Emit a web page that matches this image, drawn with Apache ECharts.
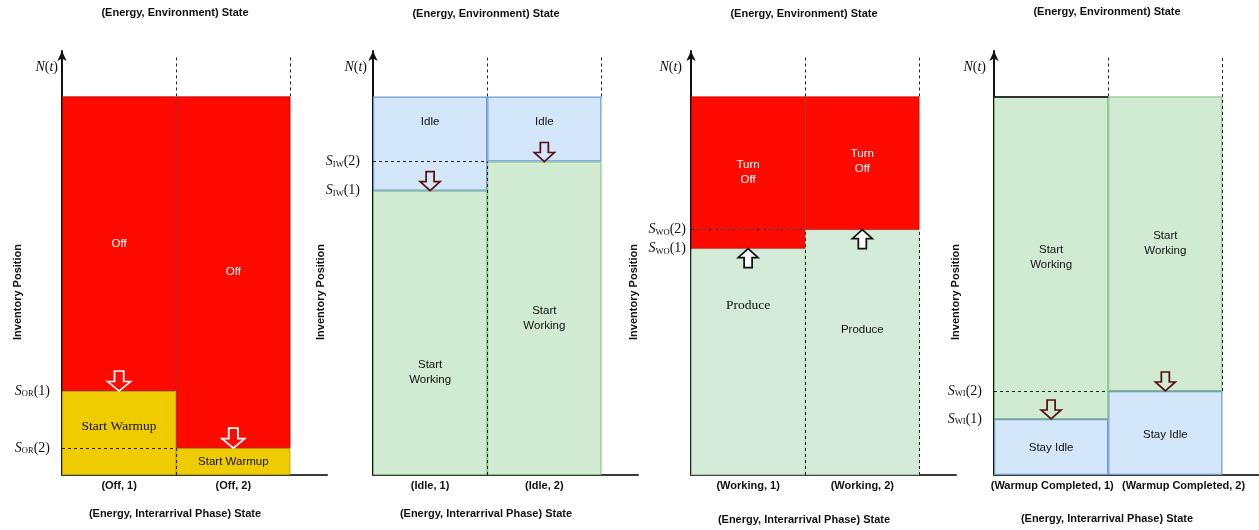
<!DOCTYPE html>
<html>
<head>
<meta charset="utf-8">
<script src="https://cdn.jsdelivr.net/npm/echarts@6/dist/echarts.min.js"></script>
<style>
html, body { margin: 0; padding: 0; background: #fff; }
#main { width: 1259px; height: 530px; }
</style>
</head>
<body>
<div id="main"></div>
<script>
// level of N(t) (top of every bar), axis top, N(t) tick, top of the dashed guides
var levelN = 100;
var axisTop = 112;
var nTick = 107.7;
var dashTop = 110.3;

var offCats = ['(Off, 1)', '(Off, 2)'];
var offWarmup = [22.2, 7.1];
var offOff = [77.8, 92.9];

var idleCats = ['(Idle, 1)', '(Idle, 2)'];
var idleWorking = [75.1, 82.8];
var idleIdle = [24.9, 17.2];

var workCats = ['(Working, 1)', '(Working, 2)'];
var workProduce = [59.8, 64.8];
var workTurnOff = [40.2, 35.2];

var warmCats = ['(Warmup Completed, 1)', '(Warmup Completed, 2)'];
var warmStayIdle = [14.8, 22.2];
var warmStartWorking = [85.2, 77.8];

var subNames = ['OR', 'IW', 'WO', 'WI'];
var topTitle = '(Energy, Environment) State';
var bottomTitle = '(Energy, Interarrival Phase) State';

var SANS = 'Liberation Sans, Arial, Helvetica, sans-serif';
var SERIF = 'Liberation Serif, Times New Roman, serif';
var arrowDown = 'path://M6,0L14,0L14,10L20,10L10,19L0,10L6,10Z';
var arrowUp = 'path://M10,0L20,9L14,9L14,19L6,19L6,9L0,9Z';

var sansBlack = { fontFamily: SANS, fontSize: 11.5, color: '#111', lineHeight: 15 };
var sansWhite = { fontFamily: SANS, fontSize: 11.5, color: '#fff', lineHeight: 15 };
var serifBlack = { fontFamily: SERIF, fontSize: 13.5, color: '#111', lineHeight: 16 };

var panels = [
  {
    left: 62, cats: offCats, lower: offWarmup, upper: offOff, sub: subNames[0],
    lowerText: ['Start Warmup', 'Start Warmup'], upperText: ['Off', 'Off'],
    lowerFont: [serifBlack, sansBlack], upperFont: [sansWhite, sansWhite],
    lowerPos: [42, 52], upperPos: [50, 50],
    lowerStyle: { color: '#eecc00', borderColor: '#c2a600', borderWidth: 1 },
    upperStyle: { color: '#ff0a00', borderColor: '#b00000', borderWidth: 0.8 },
    arrow: { up: false, color: '#ff0a00', borderColor: '#fff', size: [23, 20] },
    nameGap: 39, nMargin: 4, sPad: 8, labelAt: [0.5, 1.5],
    extra: [[1, 0, 1, 'lo2']],
    titleY: 2, bottomY: 503
  },
  {
    left: 373, cats: idleCats, lower: idleWorking, upper: idleIdle, sub: subNames[1],
    lowerText: ['Start\nWorking', 'Start\nWorking'], upperText: ['Idle', 'Idle'],
    lowerFont: [sansBlack, sansBlack], upperFont: [sansBlack, sansBlack],
    lowerPos: [64, 50], upperPos: [27, 39],
    lowerStyle: { color: '#d1ebd3', borderColor: '#82c074', borderWidth: 1 },
    upperStyle: { color: '#d4e6fa', borderColor: '#6c9bd0', borderWidth: 1.2 },
    arrow: { up: false, color: '#d4e6fa', borderColor: '#5a1010', size: [20, 19] },
    nameGap: 47, nMargin: 6, sPad: 7, labelAt: [0.5, 1.5],
    extra: [[1, 0, 1, 'lo2']],
    titleY: 3, bottomY: 503
  },
  {
    left: 691, cats: workCats, lower: workProduce, upper: workTurnOff, sub: subNames[2],
    lowerText: ['Produce', 'Produce'], upperText: ['Turn\nOff', 'Turn\nOff'],
    lowerFont: [serifBlack, sansBlack], upperFont: [sansWhite, sansWhite],
    lowerPos: [25, 41], upperPos: [50, 49],
    lowerStyle: { color: '#d3ebd8', borderColor: '#9ccf9c', borderWidth: 0.6 },
    upperStyle: { color: '#ff0a00', borderColor: '#b00000', borderWidth: 0.6 },
    arrow: { up: true, color: '#fff', borderColor: '#111', size: [20, 19] },
    nameGap: 52, nMargin: 5, sPad: 0, nPad: 4, labelAt: [0.5, 1.5],
    extra: [[1, 0, 1, 'lo2'], [2, 0, 2, 'lo2']],
    titleY: 3, bottomY: 509
  },
  {
    left: 994, cats: warmCats, lower: warmStayIdle, upper: warmStartWorking, sub: subNames[3],
    lowerText: ['Stay Idle', 'Stay Idle'], upperText: ['Start\nWorking', 'Start\nWorking'],
    lowerFont: [sansBlack, sansBlack], upperFont: [sansBlack, sansBlack],
    lowerPos: [52, 52], upperPos: [50, 50],
    lowerStyle: { color: '#d4e6fa', borderColor: '#6c9bd0', borderWidth: 1.2 },
    upperStyle: { color: '#d1ebd3', borderColor: '#82c074', borderWidth: 1 },
    arrow: { up: false, color: '#d1ebd3', borderColor: '#5a1010', size: [20, 19] },
    nameGap: 33, nMargin: 8, sPad: 4, labelAt: [0.51, 1.66],
    extra: [[2, 'lo2', 2, 'top']],
    noRightTopDash: true, topLine: true,
    titleY: 1, bottomY: 508
  }
];

var option = {
  animation: false,
  backgroundColor: '#fff',
  title: [], grid: [], xAxis: [], yAxis: [], series: []
};

panels.forEach(function (p, i) {
  option.grid.push({ left: p.left, width: 265, top: 51, bottom: 55 });

  option.title.push({
    text: topTitle, left: p.left + 108, top: p.titleY, textAlign: 'center',
    textStyle: { fontFamily: SANS, fontSize: 11, fontWeight: 'bold', color: '#111' }
  });
  option.title.push({
    text: bottomTitle, left: p.left + 108, top: p.bottomY, textAlign: 'center',
    textStyle: { fontFamily: SANS, fontSize: 11, fontWeight: 'bold', color: '#111' }
  });

  option.xAxis.push({
    type: 'value', gridIndex: i, min: 0, max: 2.32,
    axisLine: { lineStyle: { color: '#3a3a3a', width: 2 } },
    axisTick: { show: false },
    splitLine: { show: false },
    axisLabel: {
      customValues: p.labelAt, margin: 5, hideOverlap: false,
      showMinLabel: true, showMaxLabel: true,
      fontFamily: SANS, fontSize: 11, fontWeight: 'bold', color: '#111',
      formatter: function (v) { return p.cats[v === p.labelAt[0] ? 0 : 1]; }
    }
  });

  var nPad = p.nPad || 0;
  option.yAxis.push({
    type: 'value', gridIndex: i, min: 0, max: axisTop,
    name: 'Inventory Position', nameLocation: 'middle', nameGap: p.nameGap,
    nameMoveOverlap: false,
    nameTextStyle: { fontFamily: SANS, fontSize: 11, fontWeight: 'bold', color: '#111', padding: [0, 58, 0, 0] },
    axisLine: { symbol: ['none', 'arrow'], symbolSize: [7, 10], lineStyle: { color: '#111', width: 2 } },
    axisTick: { show: false },
    splitLine: { show: false },
    axisLabel: {
      customValues: [p.lower[0], p.lower[1], nTick], margin: p.nMargin,
      formatter: function (v) {
        if (v === nTick) return '{i|N}{u|(}{i|t}{ue|)}';
        var k = v === p.lower[0] ? 1 : 2;
        return '{i|S}{sub|' + p.sub + '}{u|(' + k + ')}{gap|}';
      },
      rich: {
        i: { fontFamily: SERIF, fontStyle: 'italic', fontSize: 14, color: '#111' },
        u: { fontFamily: SERIF, fontSize: 14, color: '#111' },
        ue: { fontFamily: SERIF, fontSize: 14, color: '#111', padding: [0, nPad, 0, 0] },
        sub: { fontFamily: SERIF, fontSize: 8.5, color: '#111', padding: [6, 0, 0, 0] },
        gap: { width: p.sPad }
      }
    }
  });

  // value first, x position second, so the stack runs on the value
  function barData(vals, texts, fonts, pos) {
    return vals.map(function (v, k) {
      return {
        value: [v, k + 0.5],
        label: Object.assign({
          show: true, formatter: texts[k], position: ['50%', pos[k] + '%'],
          align: 'center', verticalAlign: 'middle'
        }, fonts[k])
      };
    });
  }

  option.series.push({
    type: 'bar', xAxisIndex: i, yAxisIndex: i, stack: 'p' + i,
    encode: { x: 1, y: 0 },
    barWidth: '100%', barGap: '0%', barCategoryGap: '0%',
    itemStyle: p.lowerStyle, silent: true,
    data: barData(p.lower, p.lowerText, p.lowerFont, p.lowerPos)
  });
  option.series.push({
    type: 'bar', xAxisIndex: i, yAxisIndex: i, stack: 'p' + i,
    encode: { x: 1, y: 0 },
    barWidth: '100%', barGap: '0%', barCategoryGap: '0%',
    itemStyle: p.upperStyle, silent: true,
    data: barData(p.upper, p.upperText, p.upperFont, p.upperPos)
  });

  function yOf(t) {
    if (t === 'lo2') return p.lower[1];
    if (t === 'top') return dashTop;
    return t;
  }
  var lines = [
    [{ coord: [1, levelN] }, { coord: [1, dashTop] }],
    [{ coord: [0, p.lower[1]] }, { coord: [1, p.lower[1]] }]
  ];
  if (!p.noRightTopDash) lines.push([{ coord: [2, levelN] }, { coord: [2, dashTop] }]);
  p.extra.forEach(function (s) {
    lines.push([{ coord: [s[0], yOf(s[1])] }, { coord: [s[2], yOf(s[3])] }]);
  });
  if (p.topLine) {
    lines.push([{ coord: [0, levelN], lineStyle: { type: 'solid', color: '#333', width: 2 } }, { coord: [1, levelN] }]);
  }

  option.series.push({
    type: 'scatter', xAxisIndex: i, yAxisIndex: i, silent: true, z: 5,
    symbol: p.arrow.up ? arrowUp : arrowDown,
    symbolSize: p.arrow.size,
    symbolOffset: [0, p.arrow.up ? '50%' : '-50%'],
    itemStyle: { color: p.arrow.color, borderColor: p.arrow.borderColor, borderWidth: 1.7, opacity: 1 },
    data: p.lower.map(function (v, k) { return [k + 0.5, v]; }),
    markLine: {
      silent: true, symbol: ['none', 'none'], label: { show: false },
      lineStyle: { type: [3, 3], color: '#222', width: 1 },
      data: lines
    }
  });
});

var chart = echarts.init(document.getElementById('main'), null, { renderer: 'canvas' });
chart.setOption(option);
</script>
</body>
</html>
